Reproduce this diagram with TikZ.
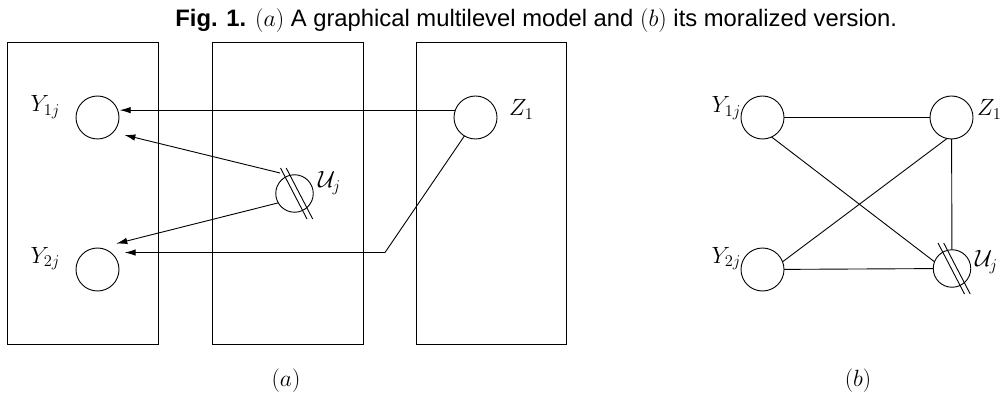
\RequirePackage{fix-cm}
\documentclass[tikz,border=0pt]{standalone}
\usepackage{fontspec}
\newfontfamily\titlesans{Liberation Sans}
\usetikzlibrary{arrows.meta,calc}
\begin{document}
\begin{tikzpicture}[x=1pt,y=-1pt,
  line width=0.9pt,
  every node/.style={inner sep=0pt, outer sep=0pt},
  txt/.style={font=\fontsize{23.5}{28}\selectfont},
  titletxt/.style={font=\fontsize{23.8}{28}\selectfont\titlesans},
  var/.style={circle, draw, minimum size=43pt},
  varsmall/.style={circle, draw, minimum size=37.5pt},
  halo/.style={circle, minimum size=64pt},
  uhalo/.style={circle, minimum size=50pt},
  arr/.style={-{Latex[length=11pt,width=6.5pt]}}]
\useasboundingbox (0,0) rectangle (1003,395);

% title
\node[titletxt, anchor=base east] (title) at (897,26.7)
  {{\bfseries Fig. 1.} $(a)$ A graphical multilevel model and $(b)$ its moralized version.};

% plates
\draw (7,42) rectangle (158,344);
\draw (212,42) rectangle (363,344);
\draw (416,42) rectangle (566,344);

% (a) variables
\node[var] (Y1a) at (97.5,117.5) {};
\node[var] (Y2a) at (97.5,269.5) {};
\node[var] (Z1a) at (475.5,117.5) {};
\node[varsmall] (Ua) at (294.5,193.5) {};
\node[halo] (Y1o) at (Y1a) {};
\node[halo] (Y2o) at (Y2a) {};
\node[uhalo] (Uo) at (Ua) {};

\node[txt, anchor=base east] (lY1a) at (60,112) {$Y_{1j}$};
\node[txt, anchor=base west] (lZ1a) at (509,116) {$Z_1$};
\node[txt, anchor=base west] (lUa) at (318,188) {$\mathcal{U}_j$};
\node[txt, anchor=base east] (lY2a) at (60,263) {$Y_{2j}$};

\draw ($(Ua)+(-14,-25.5)$) -- ($(Ua)+(12.5,25.5)$);
\draw ($(Ua)+(-8.3,-25.5)$) -- ($(Ua)+(18.2,25.5)$);

% (a) arrows
\draw[arr, shorten >=2pt] (Z1a.160) -- (Y1a.20);
\draw[arr] (Uo.125) -- (Y1o.-33);
\draw[arr] (Ua.-150) -- (Y2o.54);
\coordinate (bend) at (385,252.5);
\draw[arr] (Z1a.-121) -- (bend) -- (Y2o.32);

% (b) variables
\node[var] (Y1b) at (762.5,117.5) {};
\node[var] (Z1b) at (951.5,117.5) {};
\node[var] (Y2b) at (762.5,269.5) {};
\node[varsmall] (Ub) at (952,268.5) {};

\node[txt, anchor=base east] (lY1b) at (741,112.7) {$Y_{1j}$};
\node[txt, anchor=base west] (lZ1b) at (977,116) {$Z_1$};
\node[txt, anchor=base east] (lY2b) at (741,263.3) {$Y_{2j}$};
\node[txt, anchor=base west] (lUb) at (975,266.7) {$\mathcal{U}_j$};

\draw ($(Ub)+(-14,-25.5)$) -- ($(Ub)+(12.5,25.5)$);
\draw ($(Ub)+(-8.3,-25.5)$) -- ($(Ub)+(18.2,25.5)$);

% (b) edges
\draw (Y1b) -- (Z1b);
\draw (Y1b.-65) -- (Ub.159);
\draw (Z1b.-102) -- (Y2b.21);
\draw (Z1b) -- (Ub);
\draw (Y2b) -- (Ub);

% captions
\node[txt, anchor=base] (capa) at (286,386.5) {$(a)$};
\node[txt, anchor=base] (capb) at (858,386.5) {$(b)$};
\end{tikzpicture}
\end{document}
